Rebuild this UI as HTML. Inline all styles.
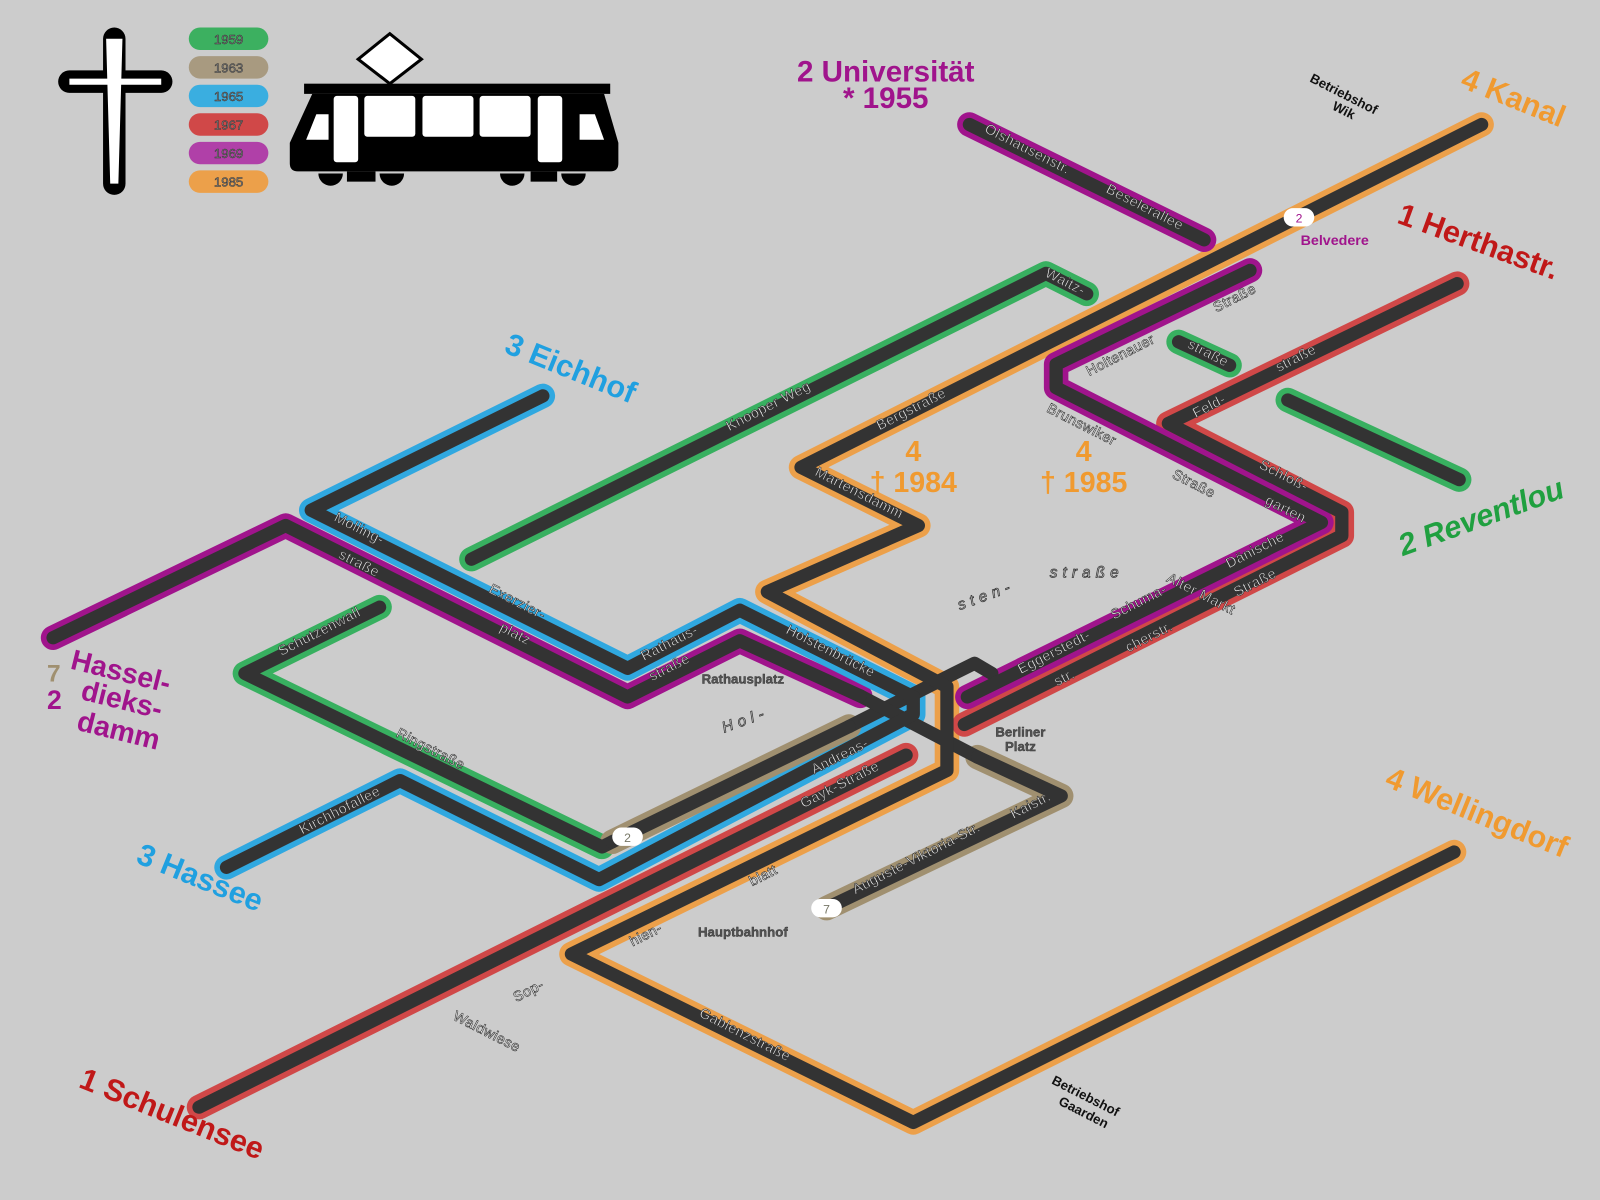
<!DOCTYPE html>
<html><head><meta charset="utf-8"><style>
html,body{margin:0;padding:0;background:#cccccc;}
svg{display:block}
.c{fill:none;stroke-linecap:round;stroke-linejoin:round;stroke-width:24}
.d{fill:none;stroke:#333;stroke-linecap:round;stroke-linejoin:round;stroke-width:13}
.s{font-family:"Liberation Sans",sans-serif;font-size:14px;fill:#fff;stroke:#333;stroke-width:0.6;letter-spacing:0.5px}
.g{font-family:"Liberation Sans",sans-serif;font-size:13px;fill:#555;stroke:#333;stroke-width:0.4;font-weight:bold}
.b{font-family:"Liberation Sans",sans-serif;font-size:13px;fill:#111;font-weight:bold}
.i{font-family:"Liberation Sans",sans-serif;font-size:15px;font-style:italic;fill:#ccc;stroke:#333;stroke-width:0.7;letter-spacing:5px}
.t{font-family:"Liberation Sans",sans-serif;font-weight:bold;font-size:30px}
</style></head><body>
<svg width="1600" height="1200" viewBox="0 0 1568 1176" xmlns="http://www.w3.org/2000/svg">
<rect width="1568" height="1176" fill="#cccccc"/>
<!-- legend -->
<path d="M112 38 V180 M68 80 H158" stroke="#000" stroke-width="22" stroke-linecap="round" fill="none"/>
<path d="M104 38 L120 38 L116 180 L108 180 Z M68 77 H158 V83 H68 Z" fill="#fff"/>
<g font-family="Liberation Sans,sans-serif" font-size="13" text-anchor="middle" fill="#888" stroke="#333" stroke-width="0.5">
<rect x="185" y="27" width="78" height="22" rx="11" fill="#3cb060" stroke="none"/><text x="224" y="43">1959</text>
<rect x="185" y="55" width="78" height="22" rx="11" fill="#a89a80" stroke="none"/><text x="224" y="71">1963</text>
<rect x="185" y="83" width="78" height="22" rx="11" fill="#3aaee0" stroke="none"/><text x="224" y="99">1965</text>
<rect x="185" y="111" width="78" height="22" rx="11" fill="#d04848" stroke="none"/><text x="224" y="127">1967</text>
<rect x="185" y="139" width="78" height="22" rx="11" fill="#b040a8" stroke="none"/><text x="224" y="155">1969</text>
<rect x="185" y="167" width="78" height="22" rx="11" fill="#eca04a" stroke="none"/><text x="224" y="183">1985</text>
</g>
<!-- tram -->
<polygon points="382,33 413,58 382,82 351,58" fill="#fff" stroke="#000" stroke-width="3"/>
<rect x="298" y="82" width="300" height="10" fill="#000"/>
<path d="M306 92 H592 L606 140 V160 Q606 168 598 168 H292 Q284 168 284 160 V140 Z" fill="#000"/>
<g fill="#fff"><path d="M300 137 L310 112 H322 V137 Z"/><rect x="327" y="94" width="24" height="65" rx="3"/><rect x="357" y="94" width="50" height="40" rx="3"/><rect x="414" y="94" width="50" height="40" rx="3"/><rect x="470" y="94" width="50" height="40" rx="3"/><rect x="527" y="94" width="24" height="65" rx="3"/><path d="M568 137 V112 H583 L592 137 Z"/></g>
<g fill="#000"><path d="M312 170 a12 12 0 0 0 24 0Z"/><path d="M372 170 a12 12 0 0 0 24 0Z"/><path d="M490 170 a12 12 0 0 0 24 0Z"/><path d="M550 170 a12 12 0 0 0 24 0Z"/><rect x="340" y="168" width="28" height="10"/><rect x="520" y="168" width="26" height="10"/></g>

<!-- lines: colored casings -->
<g class="c">
<path stroke="#eca04a" d="M1452 122 L785 458 L900 515 L752 580 L928 673 L928 755 L560 935 L895 1100 L1425 835"/>
<path stroke="#d04848" d="M1428 278 L1145 415 L1315 502 L1315 525 L945 710"/>
<path stroke="#d04848" d="M888 740 L195 1085"/>
<path stroke="#a0148c" d="M950 122 L1180 235"/>
<path stroke="#a0148c" d="M1225 265 L1035 357 L1035 380 L1295 512 L948 683"/>
<path stroke="#a0148c" d="M52 625 L280 515 L615 683 L725 628 L843 682"/>
<path stroke="#30a8e0" d="M532 388 L305 500 L615 655 L725 598 L895 683 L895 700 L587 862 L392 765 L222 850"/>
<path stroke="#38b060" d="M1262 392 L1430 470"/>
<path stroke="#38b060" d="M462 548 L1025 268 L1065 288"/>
<path stroke="#38b060" d="M1155 335 L1205 358"/>
<path stroke="#38b060" d="M372 595 L240 660 L590 830"/>
<path stroke="#a09070" d="M832 712 L600 825"/>
<path stroke="#a09070" d="M958 742 L1040 780 L810 890"/>
</g>
<g class="d">
<path d="M832 712 L935 660 L955 650 L972 660"/>
<path d="M843 682 L958 742"/>
<path d="M1452 122 L785 458 L900 515 L752 580 L928 673 L928 755 L560 935 L895 1100 L1425 835"/>
<path d="M1428 278 L1145 415 L1315 502 L1315 525 L945 710"/>
<path d="M888 740 L195 1085"/>
<path d="M950 122 L1180 235"/>
<path d="M1225 265 L1035 357 L1035 380 L1295 512 L948 683"/>
<path d="M52 625 L280 515 L615 683 L725 628 L843 682"/>
<path d="M532 388 L305 500 L615 655 L725 598 L895 683 L895 700 L587 862 L392 765 L222 850"/>
<path d="M1262 392 L1430 470"/>
<path d="M462 548 L1025 268 L1065 288"/>
<path d="M1155 335 L1205 358"/>
<path d="M372 595 L240 660 L590 830 L600 825"/>
<path d="M832 712 L600 825"/>
<path d="M958 742 L1040 780 L810 890"/>
</g>

<!-- pills -->
<g font-family="Liberation Sans,sans-serif" font-size="12" text-anchor="middle">
<rect x="1258" y="204" width="30" height="18" rx="9" fill="#fff"/><text x="1273" y="218" fill="#a0148c">2</text>
<rect x="600" y="811" width="30" height="18" rx="9" fill="#fff"/><text x="615" y="825" fill="#776">2</text>
<rect x="795" y="881" width="30" height="18" rx="9" fill="#fff"/><text x="810" y="895" fill="#776">7</text>
</g>
<text x="1308" y="240" text-anchor="middle" font-family="Liberation Sans,sans-serif" font-size="14" fill="#a0148c" font-weight="bold">Belvedere</text>

<!-- terminal labels -->
<g class="t">
<text transform="translate(1430,85) rotate(22)" fill="#f09a30">4 Kanal</text>
<text transform="translate(1368,218) rotate(20)" fill="#c01818">1 Herthastr.</text>
<text transform="translate(1375,545) rotate(-20)" fill="#20a040" font-style="italic">2 Reventlou</text>
<text transform="translate(1356,770) rotate(22)" fill="#f09a30">4 Wellingdorf</text>
<text transform="translate(76,1065) rotate(22)" fill="#c01818">1 Schulensee</text>
<text transform="translate(132,845) rotate(22)" fill="#20a0e0">3 Hassee</text>
<text transform="translate(493,345) rotate(22)" fill="#20a0e0">3 Eichhof</text>
<text x="868" y="80" text-anchor="middle" fill="#a0148c" font-size="29">2 Universität</text>
<text x="868" y="106" text-anchor="middle" fill="#a0148c" font-size="29">* 1955</text>
<g fill="#a0148c" font-size="28"><text transform="translate(68,655) rotate(14)">Hassel-</text><text transform="translate(78,685) rotate(14)">dieks-</text><text transform="translate(74,715) rotate(14)">damm</text></g>
<text x="46" y="668" fill="#a09070" font-size="24">7</text>
<text x="46" y="695" fill="#a0148c" font-size="26">2</text>
<g fill="#f09a30" font-size="28" text-anchor="middle"><text x="895" y="452">4</text><text x="895" y="482">† 1984</text><text x="1062" y="452">4</text><text x="1062" y="482">† 1985</text></g>
</g>

<!-- street labels -->
<g class="s" text-anchor="middle">
<text transform="translate(1005,150) rotate(27)">Olshausenstr.</text>
<text transform="translate(1120,207) rotate(27)">Beselerallee</text>
<text transform="translate(1042,280) rotate(27)">Waitz-</text>
<text transform="translate(1212,296) rotate(-27)">Straße</text>
<text transform="translate(1100,352) rotate(-27)">Holtenauer</text>
<text transform="translate(1182,350) rotate(27)">straße</text>
<text transform="translate(755,402) rotate(-27)">Knooper Weg</text>
<text transform="translate(895,405) rotate(-27)">Bergstraße</text>
<text transform="translate(1058,420) rotate(27)">Brunswiker</text>
<text transform="translate(1168,478) rotate(27)">Straße</text>
<text transform="translate(1187,402) rotate(-27)">Feld-</text>
<text transform="translate(1272,355) rotate(-27)">straße</text>
<text transform="translate(840,487) rotate(27)">Martensdamm</text>
<text transform="translate(1256,470) rotate(27)">Schloß-</text>
<text transform="translate(1258,503) rotate(27)">garten</text>
<text transform="translate(1232,543) rotate(-27)">Dänische</text>
<text transform="translate(1232,575) rotate(-27)">Straße</text>
<text transform="translate(1175,586) rotate(27)">Alter Markt</text>
<text transform="translate(1118,594) rotate(-27)">Schuma-</text>
<text transform="translate(1128,628) rotate(-27)">cherstr.</text>
<text transform="translate(1035,643) rotate(-27)">Eggerstedt-</text>
<text transform="translate(1045,668) rotate(-27)">str.</text>
<text transform="translate(350,522) rotate(27)">Molling-</text>
<text transform="translate(350,556) rotate(27)">straße</text>
<text transform="translate(505,594) rotate(27)">Exerzier-</text>
<text transform="translate(503,625) rotate(27)">platz</text>
<text transform="translate(658,634) rotate(-27)">Rathaus-</text>
<text transform="translate(658,658) rotate(-27)">straße</text>
<text transform="translate(812,642) rotate(27)">Holstenbrücke</text>
<text transform="translate(315,623) rotate(-27)">Schutzenwall</text>
<text transform="translate(420,738) rotate(27)">Ringstraße</text>
<text transform="translate(825,745) rotate(-27)">Andreas-</text>
<text transform="translate(825,773) rotate(-27)">Gayk-Straße</text>
<text transform="translate(1012,793) rotate(-27)">Kaistr.</text>
<text transform="translate(900,845) rotate(-27)">Auguste-Viktoria-Str.</text>
<text transform="translate(335,798) rotate(-27)">Kirchhofallee</text>
<text transform="translate(750,862) rotate(-27)">blatt</text>
<text transform="translate(635,920) rotate(-27)">hien-</text>
<text transform="translate(520,975) rotate(-27)">Sop-</text>
<text transform="translate(475,1015) rotate(27)">Waldwiese</text>
<text transform="translate(728,1018) rotate(27)">Gablenzstraße</text>
</g>
<g class="g" text-anchor="middle">
<text x="728" y="670">Rathausplatz</text>
<text x="1000" y="722">Berliner</text><text x="1000" y="736">Platz</text>
<text x="728" y="918">Hauptbahnhof</text>
</g>
<g class="i" text-anchor="middle">
<text transform="translate(968,588) rotate(-20)">sten-</text>
<text transform="translate(1065,566)">straße</text>
<text transform="translate(732,710) rotate(-20)">Hol-</text>
</g>
<g class="b" text-anchor="middle">
<text transform="translate(1315,96) rotate(27)">Betriebshof</text>
<text transform="translate(1315,112) rotate(27)">Wik</text>
<text transform="translate(1062,1078) rotate(27)">Betriebshof</text>
<text transform="translate(1060,1094) rotate(27)">Gaarden</text>
</g>
</svg>
</body></html>
